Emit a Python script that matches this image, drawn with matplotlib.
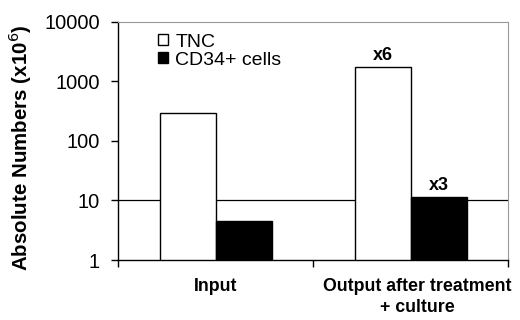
import numpy as np
import matplotlib.pyplot as plt
import matplotlib.transforms as mtransforms
from matplotlib.ticker import FixedLocator, NullLocator

plt.rcParams['font.family'] = ['Liberation Sans', 'DejaVu Sans']

categories = ["Input", "Output after treatment\n+ culture"]
tnc = [300, 1750]
cd34 = [4.5, 11.5]
fold_labels = ["", "x6"]
fold_labels_cd34 = ["", "x3"]
yticks = [1, 10, 100, 1000, 10000]

fig = plt.figure(figsize=(5.2, 3.2), dpi=100)
ax = fig.add_axes([0.227, 0.1875, 0.75, 0.744])

x = np.arange(len(categories))
w = 0.287
ax.axhline(10, color='black', lw=0.9, zorder=1)
b1 = ax.bar(x - w / 2, tnc, w, color='white', edgecolor='black', lw=1, label='TNC', zorder=2)
b2 = ax.bar(x + w / 2, cd34, w, color='black', edgecolor='black', lw=1, label='CD34+ cells', zorder=2)

# fold-change labels above the output bars
for bars, labs in [(b1, fold_labels), (b2, fold_labels_cd34)]:
    for rect, lab in zip(bars, labs):
        if lab:
            ax.annotate(lab, (rect.get_x() + rect.get_width() / 2, rect.get_height()),
                        xytext=(0, 2), textcoords='offset points', ha='center', va='bottom',
                        fontsize=13, fontweight='bold')

ax.set_yscale('log')
ax.set_ylim(1, 10000)
ax.yaxis.set_major_locator(FixedLocator(yticks))
ax.set_yticklabels([str(t) for t in yticks], fontsize=14.4)
ax.yaxis.set_minor_locator(NullLocator())
ax.tick_params(axis='y', length=5, width=1, pad=8)

ax.set_xlim(-0.5, 1.5)
ax.set_xticks(x)
ax.set_xticklabels(categories, fontsize=12.8, fontweight='bold', linespacing=1.3)
ax.tick_params(axis='x', which='major', length=0, pad=13)
ax.set_xticks([-0.5, 0.5, 1.5], minor=True)
ax.tick_params(axis='x', which='minor', length=5, width=1)
# second category label sits a little right of its centre in the original
lbl = ax.get_xticklabels()[1]
lbl.set_transform(lbl.get_transform() + mtransforms.ScaledTranslation(7 / 100, 0, fig.dpi_scale_trans))

for s in ['top', 'right']:
    ax.spines[s].set_color('#999999')
for s in ['left', 'bottom']:
    ax.spines[s].set_color('black')
    ax.spines[s].set_linewidth(1)

ax.set_ylabel('Absolute Numbers (x10$^{6}$)', fontsize=14.8, fontweight='bold')
ax.yaxis.set_label_coords(-0.215, 0.47)

ax.legend(loc='upper left', bbox_to_anchor=(0.072, 1.0), frameon=False, fontsize=14,
          handlelength=0.5, handleheight=0.5, handletextpad=0.4, labelspacing=0.05,
          borderaxespad=0.2)

fig.savefig('out.png', dpi=100)
